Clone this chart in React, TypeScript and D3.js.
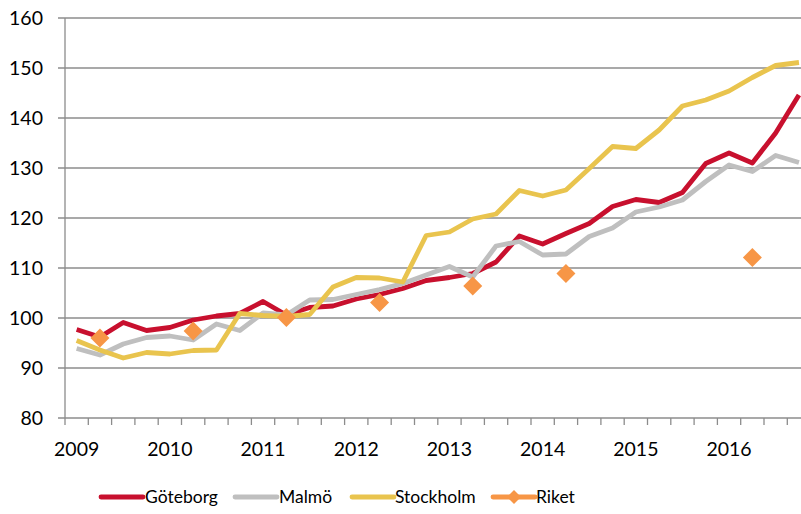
import React from 'react';
import * as d3 from 'd3';

const years = [2009, 2010, 2011, 2012, 2013, 2014, 2015, 2016];
const quarters = years.flatMap(y => [1, 2, 3, 4].map(q => `${y}Q${q}`));

const goteborg = [
  97.7, 96.2, 99.1, 97.5, 98.1, 99.6, 100.4, 100.9,
  103.3, 100.6, 102.1, 102.4, 103.8, 104.7, 105.9, 107.5,
  108.1, 108.9, 111.2, 116.4, 114.8, 116.9, 118.9, 122.3,
  123.7, 123.1, 125.1, 130.9, 133.0, 131.0, 137.0, 144.6
];
const malmo = [
  93.9, 92.6, 94.8, 96.1, 96.4, 95.6, 98.8, 97.5,
  101.0, 100.6, 103.6, 103.7, 104.7, 105.7, 106.9, 108.6,
  110.3, 108.2, 114.4, 115.3, 112.6, 112.8, 116.3, 118.0,
  121.2, 122.2, 123.6, 127.3, 130.6, 129.3, 132.5, 131.1
];
const stockholm = [
  95.5, 93.6, 92.0, 93.1, 92.8, 93.5, 93.6, 100.9,
  100.5, 100.3, 100.7, 106.2, 108.1, 108.0, 107.2, 116.5,
  117.2, 119.8, 120.8, 125.5, 124.4, 125.6, 129.9, 134.3,
  133.9, 137.6, 142.4, 143.6, 145.4, 148.1, 150.5, 151.1
];
const riketQuarters = ['2009Q2', '2010Q2', '2011Q2', '2012Q2', '2013Q2', '2014Q2', '2016Q2'];
const riketValues = [96.0, 97.4, 100.1, 103.1, 106.4, 108.9, 112.1];

const yTicks = [80, 90, 100, 110, 120, 130, 140, 150, 160];

const series = [
  { name: 'Göteborg', values: goteborg, color: '#C8102E' },
  { name: 'Malmö', values: malmo, color: '#BFBFBF' },
  { name: 'Stockholm', values: stockholm, color: '#E9C44E' },
];
const riketColor = '#F79646';

const W = 801;
const H = 514;
const font = 'Lato, "Open Sans", sans-serif';

const App = () => {
  const left = 65;
  const step = 23.3;
  const x = d3.scaleBand<string>()
    .domain(quarters)
    .range([left, left + quarters.length * step]);
  const y = d3.scaleLinear().domain([80, 160]).range([418, 18]);
  const cx = (q: string) => (x(q) ?? 0) + x.bandwidth() / 2;

  const line = d3.line<number>()
    .x((_, i) => cx(quarters[i]))
    .y(d => y(d));

  // diamond marker like the spreadsheet's Riket points
  const diamond = (px: number, py: number, r: number) =>
    `M${px},${py - r}L${px + r},${py}L${px},${py + r}L${px - r},${py}Z`;

  const legend = [
    { name: 'Göteborg', color: series[0].color, x0: 101, tx: 145 },
    { name: 'Malmö', color: series[1].color, x0: 235, tx: 279 },
    { name: 'Stockholm', color: series[2].color, x0: 352, tx: 395 },
    { name: 'Riket', color: riketColor, x0: 493, tx: 536 },
  ];

  return (
    <svg width={W} height={H} style={{ position: 'absolute', left: 0, top: 0, background: '#fff' }}>
      {yTicks.map(t => (
        <g key={t}>
          <line x1={58} x2={W} y1={y(t)} y2={y(t)} stroke="#8c8c8c" strokeWidth={1.3} />
          <text x={43} y={y(t)} dy="0.36em" textAnchor="end" fontFamily={font} fontSize={19.5} fill="#000">{t}</text>
        </g>
      ))}
      <line x1={left} x2={left} y1={y(160)} y2={y(80) + 7} stroke="#8c8c8c" strokeWidth={1.3} />
      {quarters.map(q => (
        <line key={q} x1={(x(q) ?? 0) + step} x2={(x(q) ?? 0) + step} y1={y(80)} y2={y(80) + 7} stroke="#8c8c8c" strokeWidth={1.3} />
      ))}
      {years.map(yr => (
        <text key={yr} x={cx(`${yr}Q1`)} y={455.5} textAnchor="middle" fontFamily={font} fontSize={19.5} fill="#000">{yr}</text>
      ))}
      <g>
        {series.map(s => (
          <path key={s.name} d={line(s.values) ?? ''} fill="none" stroke={s.color} strokeWidth={4.8} strokeLinejoin="round" />
        ))}
        {riketQuarters.map((q, i) => (
          <path key={q} d={diamond(cx(q), y(riketValues[i]), 9.5)} fill={riketColor} />
        ))}
      </g>
      {legend.map(l => (
        <g key={l.name}>
          <line x1={l.x0} x2={l.x0 + 42} y1={497} y2={497} stroke={l.color} strokeWidth={4.8} strokeLinecap="round" />
          {l.name === 'Riket' && <path d={diamond(l.x0 + 21, 497, 7)} fill={riketColor} />}
          <text x={l.tx} y={497} dy="0.36em" fontFamily={font} fontSize={17.5} fill="#000">{l.name}</text>
        </g>
      ))}
    </svg>
  );
};

export default App;
